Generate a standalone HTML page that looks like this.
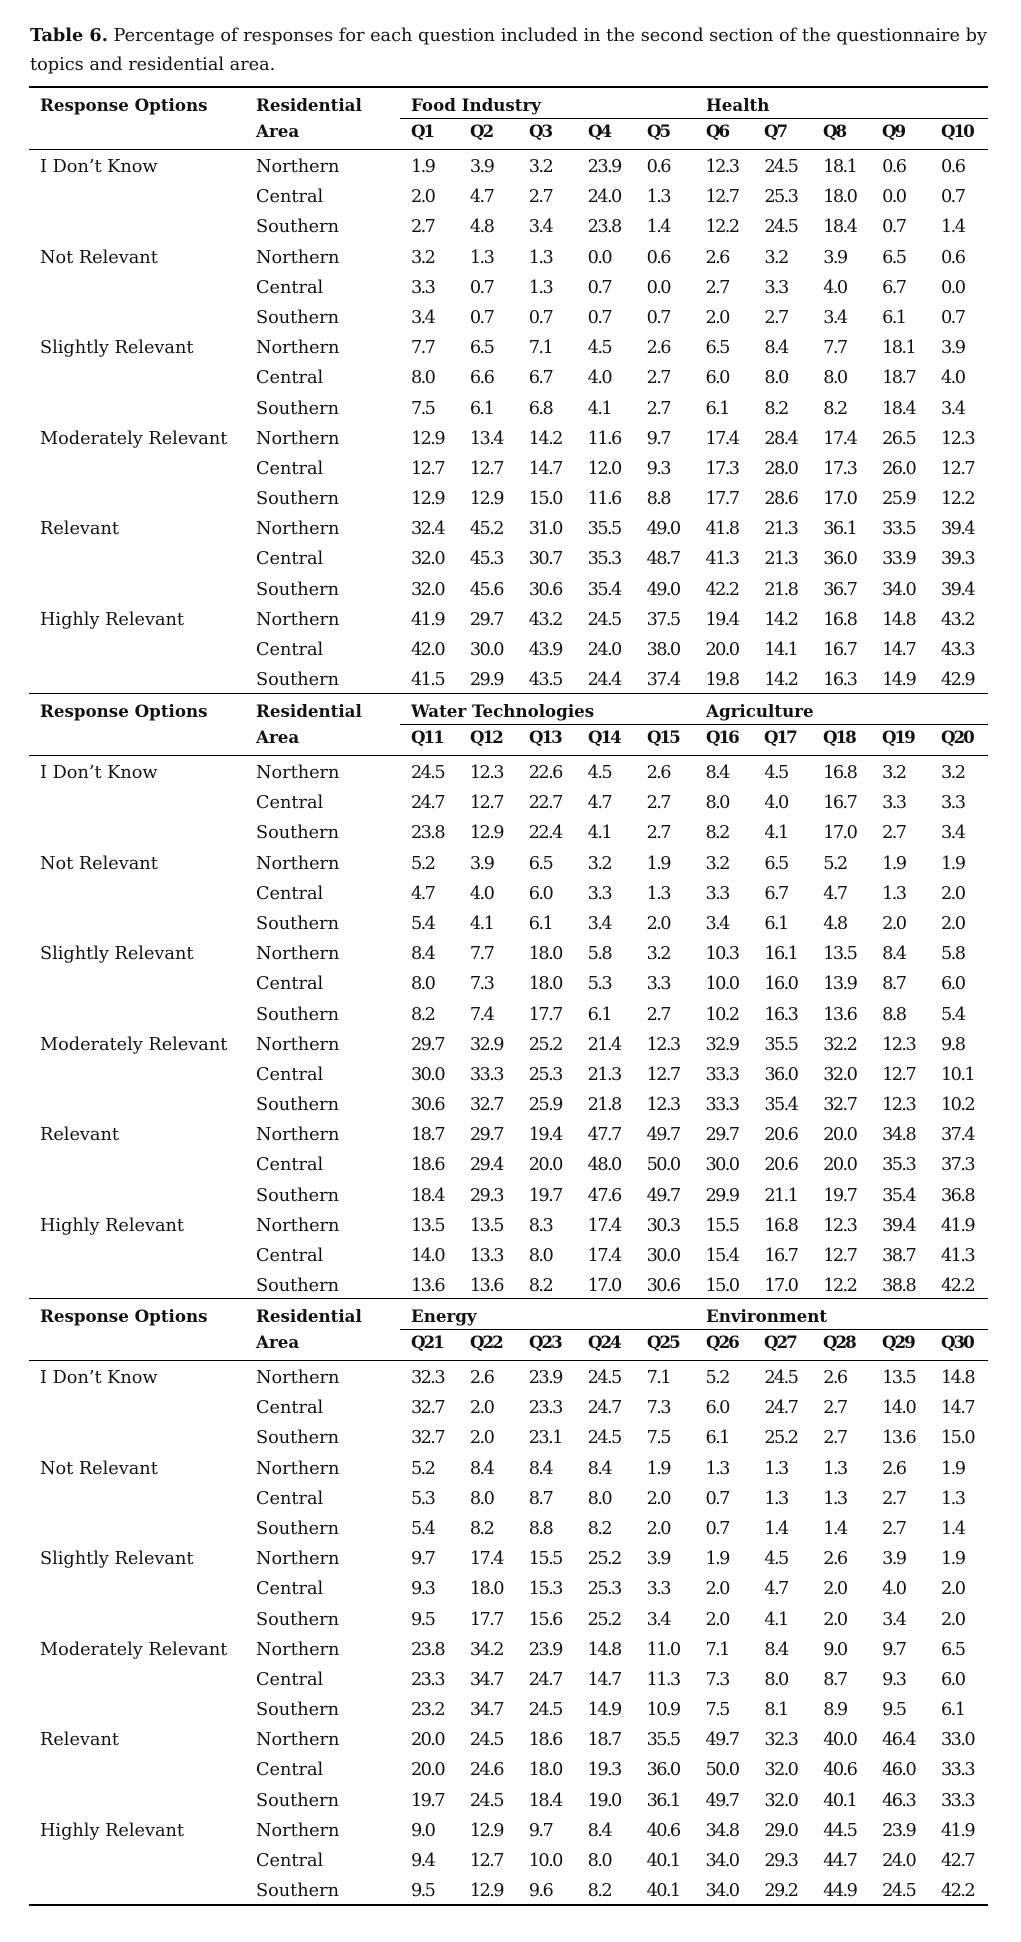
<!DOCTYPE html>
<html><head><meta charset="utf-8">
<style>
body{margin:0;width:1021px;height:1942px;background:#fff;position:relative;font-family:"DejaVu Serif","Liberation Serif",serif;color:#111;overflow:hidden}
.cap{position:absolute;left:30px;top:21px;font-size:17.7px;line-height:29px;white-space:nowrap}
.rule{position:absolute;left:29px;width:959px;background:#000}
.sec{position:absolute;left:29px;width:959px;height:606px}
.hd{position:absolute;left:0;top:0;width:959px;height:62px;font-weight:bold;font-size:16.7px}
.hd span{position:absolute;white-space:nowrap;line-height:20px}
.hd .t{top:8px}
.hd .q{top:34px;font-size:16.7px;letter-spacing:-2px}
.hd .a{top:34px}
.gl{position:absolute;left:371px;width:588px;top:31px;height:1px;background:#000}
.hr{position:absolute;left:0;width:959px;top:62px;height:1px;background:#000}
.rows{position:absolute;top:65px;left:0;width:959px}
.r{display:flex;height:30.2px;line-height:30.2px;font-size:17.7px;white-space:nowrap}
.r b{font-weight:normal;width:216px;margin-left:11px;flex:none}
.r s{text-decoration:none;width:155px;flex:none}
.r i{font-style:normal;width:58.9px;flex:none;letter-spacing:-1.6px}
</style></head><body>
<div class="cap"><b>Table 6.</b> Percentage of responses for each question included in the second section of the questionnaire by<br>topics and residential area.</div>

<div class="rule" style="top:86px;height:2px"></div>

<!-- Section 1 -->
<div class="sec" style="top:87px">
<div class="hd">
<span class="t" style="left:11px">Response Options</span>
<span class="t" style="left:227px">Residential</span>
<span class="a" style="left:227px">Area</span>
<span class="t" style="left:382px">Food Industry</span>
<span class="t" style="left:677px">Health</span>
<div class="gl"></div>
<span class="q" style="left:382px">Q1</span><span class="q" style="left:441px">Q2</span><span class="q" style="left:500px">Q3</span><span class="q" style="left:559px">Q4</span><span class="q" style="left:618px">Q5</span><span class="q" style="left:677px">Q6</span><span class="q" style="left:735px">Q7</span><span class="q" style="left:794px">Q8</span><span class="q" style="left:853px">Q9</span><span class="q" style="left:912px">Q10</span>
</div>
<div class="hr"></div>
<div class="rows">
<div class="r"><b>I Don’t Know</b><s>Northern</s><i>1.9</i><i>3.9</i><i>3.2</i><i>23.9</i><i>0.6</i><i>12.3</i><i>24.5</i><i>18.1</i><i>0.6</i><i>0.6</i></div>
<div class="r"><b></b><s>Central</s><i>2.0</i><i>4.7</i><i>2.7</i><i>24.0</i><i>1.3</i><i>12.7</i><i>25.3</i><i>18.0</i><i>0.0</i><i>0.7</i></div>
<div class="r"><b></b><s>Southern</s><i>2.7</i><i>4.8</i><i>3.4</i><i>23.8</i><i>1.4</i><i>12.2</i><i>24.5</i><i>18.4</i><i>0.7</i><i>1.4</i></div>
<div class="r"><b>Not Relevant</b><s>Northern</s><i>3.2</i><i>1.3</i><i>1.3</i><i>0.0</i><i>0.6</i><i>2.6</i><i>3.2</i><i>3.9</i><i>6.5</i><i>0.6</i></div>
<div class="r"><b></b><s>Central</s><i>3.3</i><i>0.7</i><i>1.3</i><i>0.7</i><i>0.0</i><i>2.7</i><i>3.3</i><i>4.0</i><i>6.7</i><i>0.0</i></div>
<div class="r"><b></b><s>Southern</s><i>3.4</i><i>0.7</i><i>0.7</i><i>0.7</i><i>0.7</i><i>2.0</i><i>2.7</i><i>3.4</i><i>6.1</i><i>0.7</i></div>
<div class="r"><b>Slightly Relevant</b><s>Northern</s><i>7.7</i><i>6.5</i><i>7.1</i><i>4.5</i><i>2.6</i><i>6.5</i><i>8.4</i><i>7.7</i><i>18.1</i><i>3.9</i></div>
<div class="r"><b></b><s>Central</s><i>8.0</i><i>6.6</i><i>6.7</i><i>4.0</i><i>2.7</i><i>6.0</i><i>8.0</i><i>8.0</i><i>18.7</i><i>4.0</i></div>
<div class="r"><b></b><s>Southern</s><i>7.5</i><i>6.1</i><i>6.8</i><i>4.1</i><i>2.7</i><i>6.1</i><i>8.2</i><i>8.2</i><i>18.4</i><i>3.4</i></div>
<div class="r"><b>Moderately Relevant</b><s>Northern</s><i>12.9</i><i>13.4</i><i>14.2</i><i>11.6</i><i>9.7</i><i>17.4</i><i>28.4</i><i>17.4</i><i>26.5</i><i>12.3</i></div>
<div class="r"><b></b><s>Central</s><i>12.7</i><i>12.7</i><i>14.7</i><i>12.0</i><i>9.3</i><i>17.3</i><i>28.0</i><i>17.3</i><i>26.0</i><i>12.7</i></div>
<div class="r"><b></b><s>Southern</s><i>12.9</i><i>12.9</i><i>15.0</i><i>11.6</i><i>8.8</i><i>17.7</i><i>28.6</i><i>17.0</i><i>25.9</i><i>12.2</i></div>
<div class="r"><b>Relevant</b><s>Northern</s><i>32.4</i><i>45.2</i><i>31.0</i><i>35.5</i><i>49.0</i><i>41.8</i><i>21.3</i><i>36.1</i><i>33.5</i><i>39.4</i></div>
<div class="r"><b></b><s>Central</s><i>32.0</i><i>45.3</i><i>30.7</i><i>35.3</i><i>48.7</i><i>41.3</i><i>21.3</i><i>36.0</i><i>33.9</i><i>39.3</i></div>
<div class="r"><b></b><s>Southern</s><i>32.0</i><i>45.6</i><i>30.6</i><i>35.4</i><i>49.0</i><i>42.2</i><i>21.8</i><i>36.7</i><i>34.0</i><i>39.4</i></div>
<div class="r"><b>Highly Relevant</b><s>Northern</s><i>41.9</i><i>29.7</i><i>43.2</i><i>24.5</i><i>37.5</i><i>19.4</i><i>14.2</i><i>16.8</i><i>14.8</i><i>43.2</i></div>
<div class="r"><b></b><s>Central</s><i>42.0</i><i>30.0</i><i>43.9</i><i>24.0</i><i>38.0</i><i>20.0</i><i>14.1</i><i>16.7</i><i>14.7</i><i>43.3</i></div>
<div class="r"><b></b><s>Southern</s><i>41.5</i><i>29.9</i><i>43.5</i><i>24.4</i><i>37.4</i><i>19.8</i><i>14.2</i><i>16.3</i><i>14.9</i><i>42.9</i></div>
</div>
</div>

<div class="rule" style="top:693px;height:1px"></div>

<!-- Section 2 -->
<div class="sec" style="top:693px">
<div class="hd">
<span class="t" style="left:11px">Response Options</span>
<span class="t" style="left:227px">Residential</span>
<span class="a" style="left:227px">Area</span>
<span class="t" style="left:382px">Water Technologies</span>
<span class="t" style="left:677px">Agriculture</span>
<div class="gl"></div>
<span class="q" style="left:382px">Q11</span><span class="q" style="left:441px">Q12</span><span class="q" style="left:500px">Q13</span><span class="q" style="left:559px">Q14</span><span class="q" style="left:618px">Q15</span><span class="q" style="left:677px">Q16</span><span class="q" style="left:735px">Q17</span><span class="q" style="left:794px">Q18</span><span class="q" style="left:853px">Q19</span><span class="q" style="left:912px">Q20</span>
</div>
<div class="hr"></div>
<div class="rows">
<div class="r"><b>I Don’t Know</b><s>Northern</s><i>24.5</i><i>12.3</i><i>22.6</i><i>4.5</i><i>2.6</i><i>8.4</i><i>4.5</i><i>16.8</i><i>3.2</i><i>3.2</i></div>
<div class="r"><b></b><s>Central</s><i>24.7</i><i>12.7</i><i>22.7</i><i>4.7</i><i>2.7</i><i>8.0</i><i>4.0</i><i>16.7</i><i>3.3</i><i>3.3</i></div>
<div class="r"><b></b><s>Southern</s><i>23.8</i><i>12.9</i><i>22.4</i><i>4.1</i><i>2.7</i><i>8.2</i><i>4.1</i><i>17.0</i><i>2.7</i><i>3.4</i></div>
<div class="r"><b>Not Relevant</b><s>Northern</s><i>5.2</i><i>3.9</i><i>6.5</i><i>3.2</i><i>1.9</i><i>3.2</i><i>6.5</i><i>5.2</i><i>1.9</i><i>1.9</i></div>
<div class="r"><b></b><s>Central</s><i>4.7</i><i>4.0</i><i>6.0</i><i>3.3</i><i>1.3</i><i>3.3</i><i>6.7</i><i>4.7</i><i>1.3</i><i>2.0</i></div>
<div class="r"><b></b><s>Southern</s><i>5.4</i><i>4.1</i><i>6.1</i><i>3.4</i><i>2.0</i><i>3.4</i><i>6.1</i><i>4.8</i><i>2.0</i><i>2.0</i></div>
<div class="r"><b>Slightly Relevant</b><s>Northern</s><i>8.4</i><i>7.7</i><i>18.0</i><i>5.8</i><i>3.2</i><i>10.3</i><i>16.1</i><i>13.5</i><i>8.4</i><i>5.8</i></div>
<div class="r"><b></b><s>Central</s><i>8.0</i><i>7.3</i><i>18.0</i><i>5.3</i><i>3.3</i><i>10.0</i><i>16.0</i><i>13.9</i><i>8.7</i><i>6.0</i></div>
<div class="r"><b></b><s>Southern</s><i>8.2</i><i>7.4</i><i>17.7</i><i>6.1</i><i>2.7</i><i>10.2</i><i>16.3</i><i>13.6</i><i>8.8</i><i>5.4</i></div>
<div class="r"><b>Moderately Relevant</b><s>Northern</s><i>29.7</i><i>32.9</i><i>25.2</i><i>21.4</i><i>12.3</i><i>32.9</i><i>35.5</i><i>32.2</i><i>12.3</i><i>9.8</i></div>
<div class="r"><b></b><s>Central</s><i>30.0</i><i>33.3</i><i>25.3</i><i>21.3</i><i>12.7</i><i>33.3</i><i>36.0</i><i>32.0</i><i>12.7</i><i>10.1</i></div>
<div class="r"><b></b><s>Southern</s><i>30.6</i><i>32.7</i><i>25.9</i><i>21.8</i><i>12.3</i><i>33.3</i><i>35.4</i><i>32.7</i><i>12.3</i><i>10.2</i></div>
<div class="r"><b>Relevant</b><s>Northern</s><i>18.7</i><i>29.7</i><i>19.4</i><i>47.7</i><i>49.7</i><i>29.7</i><i>20.6</i><i>20.0</i><i>34.8</i><i>37.4</i></div>
<div class="r"><b></b><s>Central</s><i>18.6</i><i>29.4</i><i>20.0</i><i>48.0</i><i>50.0</i><i>30.0</i><i>20.6</i><i>20.0</i><i>35.3</i><i>37.3</i></div>
<div class="r"><b></b><s>Southern</s><i>18.4</i><i>29.3</i><i>19.7</i><i>47.6</i><i>49.7</i><i>29.9</i><i>21.1</i><i>19.7</i><i>35.4</i><i>36.8</i></div>
<div class="r"><b>Highly Relevant</b><s>Northern</s><i>13.5</i><i>13.5</i><i>8.3</i><i>17.4</i><i>30.3</i><i>15.5</i><i>16.8</i><i>12.3</i><i>39.4</i><i>41.9</i></div>
<div class="r"><b></b><s>Central</s><i>14.0</i><i>13.3</i><i>8.0</i><i>17.4</i><i>30.0</i><i>15.4</i><i>16.7</i><i>12.7</i><i>38.7</i><i>41.3</i></div>
<div class="r"><b></b><s>Southern</s><i>13.6</i><i>13.6</i><i>8.2</i><i>17.0</i><i>30.6</i><i>15.0</i><i>17.0</i><i>12.2</i><i>38.8</i><i>42.2</i></div>
</div>
</div>

<div class="rule" style="top:1298px;height:1px"></div>

<!-- Section 3 -->
<div class="sec" style="top:1298px">
<div class="hd">
<span class="t" style="left:11px">Response Options</span>
<span class="t" style="left:227px">Residential</span>
<span class="a" style="left:227px">Area</span>
<span class="t" style="left:382px">Energy</span>
<span class="t" style="left:677px">Environment</span>
<div class="gl"></div>
<span class="q" style="left:382px">Q21</span><span class="q" style="left:441px">Q22</span><span class="q" style="left:500px">Q23</span><span class="q" style="left:559px">Q24</span><span class="q" style="left:618px">Q25</span><span class="q" style="left:677px">Q26</span><span class="q" style="left:735px">Q27</span><span class="q" style="left:794px">Q28</span><span class="q" style="left:853px">Q29</span><span class="q" style="left:912px">Q30</span>
</div>
<div class="hr"></div>
<div class="rows">
<div class="r"><b>I Don’t Know</b><s>Northern</s><i>32.3</i><i>2.6</i><i>23.9</i><i>24.5</i><i>7.1</i><i>5.2</i><i>24.5</i><i>2.6</i><i>13.5</i><i>14.8</i></div>
<div class="r"><b></b><s>Central</s><i>32.7</i><i>2.0</i><i>23.3</i><i>24.7</i><i>7.3</i><i>6.0</i><i>24.7</i><i>2.7</i><i>14.0</i><i>14.7</i></div>
<div class="r"><b></b><s>Southern</s><i>32.7</i><i>2.0</i><i>23.1</i><i>24.5</i><i>7.5</i><i>6.1</i><i>25.2</i><i>2.7</i><i>13.6</i><i>15.0</i></div>
<div class="r"><b>Not Relevant</b><s>Northern</s><i>5.2</i><i>8.4</i><i>8.4</i><i>8.4</i><i>1.9</i><i>1.3</i><i>1.3</i><i>1.3</i><i>2.6</i><i>1.9</i></div>
<div class="r"><b></b><s>Central</s><i>5.3</i><i>8.0</i><i>8.7</i><i>8.0</i><i>2.0</i><i>0.7</i><i>1.3</i><i>1.3</i><i>2.7</i><i>1.3</i></div>
<div class="r"><b></b><s>Southern</s><i>5.4</i><i>8.2</i><i>8.8</i><i>8.2</i><i>2.0</i><i>0.7</i><i>1.4</i><i>1.4</i><i>2.7</i><i>1.4</i></div>
<div class="r"><b>Slightly Relevant</b><s>Northern</s><i>9.7</i><i>17.4</i><i>15.5</i><i>25.2</i><i>3.9</i><i>1.9</i><i>4.5</i><i>2.6</i><i>3.9</i><i>1.9</i></div>
<div class="r"><b></b><s>Central</s><i>9.3</i><i>18.0</i><i>15.3</i><i>25.3</i><i>3.3</i><i>2.0</i><i>4.7</i><i>2.0</i><i>4.0</i><i>2.0</i></div>
<div class="r"><b></b><s>Southern</s><i>9.5</i><i>17.7</i><i>15.6</i><i>25.2</i><i>3.4</i><i>2.0</i><i>4.1</i><i>2.0</i><i>3.4</i><i>2.0</i></div>
<div class="r"><b>Moderately Relevant</b><s>Northern</s><i>23.8</i><i>34.2</i><i>23.9</i><i>14.8</i><i>11.0</i><i>7.1</i><i>8.4</i><i>9.0</i><i>9.7</i><i>6.5</i></div>
<div class="r"><b></b><s>Central</s><i>23.3</i><i>34.7</i><i>24.7</i><i>14.7</i><i>11.3</i><i>7.3</i><i>8.0</i><i>8.7</i><i>9.3</i><i>6.0</i></div>
<div class="r"><b></b><s>Southern</s><i>23.2</i><i>34.7</i><i>24.5</i><i>14.9</i><i>10.9</i><i>7.5</i><i>8.1</i><i>8.9</i><i>9.5</i><i>6.1</i></div>
<div class="r"><b>Relevant</b><s>Northern</s><i>20.0</i><i>24.5</i><i>18.6</i><i>18.7</i><i>35.5</i><i>49.7</i><i>32.3</i><i>40.0</i><i>46.4</i><i>33.0</i></div>
<div class="r"><b></b><s>Central</s><i>20.0</i><i>24.6</i><i>18.0</i><i>19.3</i><i>36.0</i><i>50.0</i><i>32.0</i><i>40.6</i><i>46.0</i><i>33.3</i></div>
<div class="r"><b></b><s>Southern</s><i>19.7</i><i>24.5</i><i>18.4</i><i>19.0</i><i>36.1</i><i>49.7</i><i>32.0</i><i>40.1</i><i>46.3</i><i>33.3</i></div>
<div class="r"><b>Highly Relevant</b><s>Northern</s><i>9.0</i><i>12.9</i><i>9.7</i><i>8.4</i><i>40.6</i><i>34.8</i><i>29.0</i><i>44.5</i><i>23.9</i><i>41.9</i></div>
<div class="r"><b></b><s>Central</s><i>9.4</i><i>12.7</i><i>10.0</i><i>8.0</i><i>40.1</i><i>34.0</i><i>29.3</i><i>44.7</i><i>24.0</i><i>42.7</i></div>
<div class="r"><b></b><s>Southern</s><i>9.5</i><i>12.9</i><i>9.6</i><i>8.2</i><i>40.1</i><i>34.0</i><i>29.2</i><i>44.9</i><i>24.5</i><i>42.2</i></div>
</div>
</div>

<div class="rule" style="top:1904px;height:2px"></div>
</body></html>
